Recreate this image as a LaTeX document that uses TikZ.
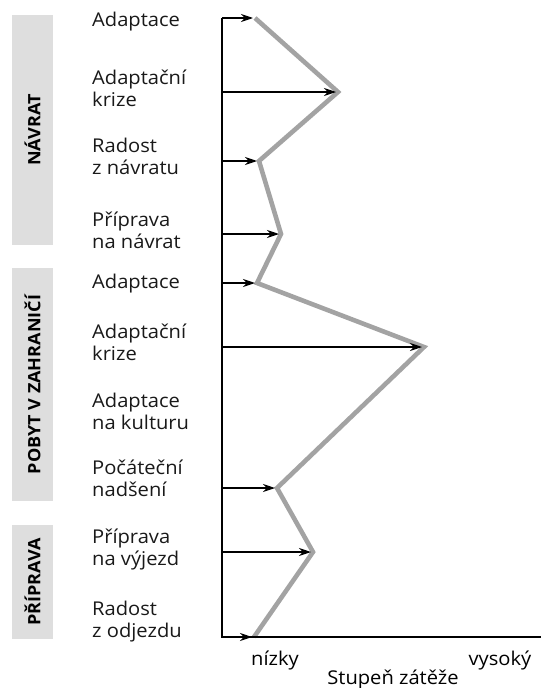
\documentclass[tikz,border=0pt]{standalone}
\usepackage{fontspec}
\setmainfont{Open Sans}[FakeStretch=1.06]
\usetikzlibrary{arrows.meta}
\begin{document}
\begin{tikzpicture}[x=1pt,y=-1pt,
  lbl/.style={anchor=base west,inner sep=0pt,align=left,
    font=\fontsize{19}{22}\selectfont,text=black!90},
  phase/.style={fill=black!13,inner sep=0pt,minimum height=41,rotate=90,
    font=\bfseries\fontsize{17}{22}\selectfont},
  axisline/.style={line width=1.4pt,black},
  level/.style={line width=1.1pt,black,-{Stealth[length=12pt,width=8pt]},shorten >=2pt},
  curve/.style={line width=4.6pt,black!36,line join=miter},
  scale label/.style={anchor=base,inner sep=0pt,font=\fontsize{19}{22}\selectfont}]
\useasboundingbox (0,0) rectangle (541,688);

% phase bands on the left
\node[phase,minimum width=230] (navrat) at (32.5,130) {NÁVRAT};
\node[phase,minimum width=233] (pobyt) at (32.5,384.5) {POBYT V ZAHRANIČÍ};
\node[phase,minimum width=114] (priprava) at (32.5,582) {PŘÍPRAVA};

% stage labels (anchored at the baseline of their last line)
\node[lbl] (l1) at (92,27) {Adaptace};
\node[lbl] (l2) at (92,106) {Adaptační\\krize};
\node[lbl] (l3) at (92,174) {Radost\\z návratu};
\node[lbl] (l4) at (92,248) {Příprava\\na návrat};
\node[lbl] (l5) at (92,288) {Adaptace};
\node[lbl] (l6) at (92,360) {Adaptační\\krize};
\node[lbl] (l7) at (92,429) {Adaptace\\na kulturu};
\node[lbl] (l8) at (92,496) {Počáteční\\nadšení};
\node[lbl] (l9) at (92,565) {Příprava\\na výjezd};
\node[lbl] (l10) at (92,637) {Radost\\z odjezdu};

% axes
\coordinate (top) at (222,18);
\coordinate (origin) at (222,637);
\coordinate (xend) at (541,637);

% stress levels
\coordinate (p1) at (255,18);
\coordinate (p2) at (338,92);
\coordinate (p3) at (259,161);
\coordinate (p4) at (281,234);
\coordinate (p5) at (257,283);
\coordinate (p6) at (424,347);
\coordinate (p7) at (277,488);
\coordinate (p8) at (313,552);
\coordinate (p9) at (254,637);

\foreach \i/\y in {1/18,2/92,3/161,4/234,5/283,6/347,7/488,8/552,9/637}
  \coordinate (a\i) at (222,\y);

\draw[curve] (p1) -- (p2) -- (p3) -- (p4) -- (p5) -- (p6) -- (p7) -- (p8) -- (p9);

\draw[axisline] (top) -- (origin) -- (xend);
\foreach \i in {1,...,9}
  \draw[level] (a\i) -- (p\i);

% horizontal scale
\node[scale label] (low) at (275,665) {nízky};
\node[scale label] (high) at (500,665) {vysoký};
\node[scale label] (title) at (393,684) {Stupeň zátěže};
\end{tikzpicture}
\end{document}
